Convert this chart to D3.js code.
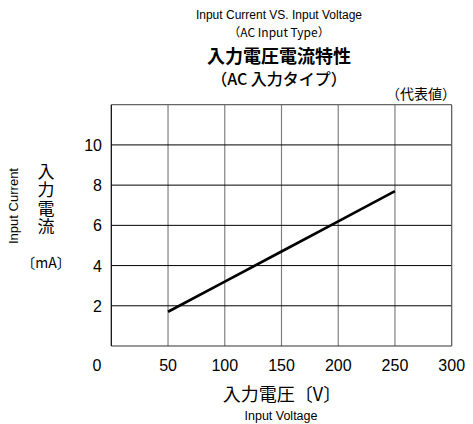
<!DOCTYPE html>
<html><head><meta charset="utf-8">
<script src="https://cdn.jsdelivr.net/npm/d3@7"></script>
<style>
body{margin:0;background:#fff;}
text{font-family:"Liberation Sans","Noto Sans CJK JP",sans-serif;fill:#000;}
.cjk{font-family:"Noto Sans CJK JP","Liberation Sans",sans-serif;}
</style></head><body>
<svg id="c" width="473" height="424"></svg>
<script>
const voltage = [50, 100, 150, 200, 250];
const current = [1.7, 3.2, 4.7, 6.2, 7.7];
const xTicks = [50, 100, 150, 200, 250, 300];
const yTicks = [2, 4, 6, 8, 10];
const xGrid = [50, 100, 150, 200, 250];
const yGrid = [2, 4, 6, 8, 10];

const svg = d3.select("#c");
const x = d3.scaleLinear().domain([0, 300]).range([111.3, 451.7]);
const y = d3.scaleLinear().domain([0, 12]).range([346, 104.7]);

// titles
const t = [
  {s:"Input Current VS. Input Voltage", y:19, size:12, w:"normal", cls:""},
  {s:"（AC Input Type）", y:37, size:12, w:"normal", cls:"cjk"},
  {s:"入力電圧電流特性", y:63, size:18, w:"bold", cls:"cjk"},
  {s:"（AC 入力タイプ）", y:85, size:16, w:"500", cls:"cjk"}
];
svg.selectAll("text.title").data(t).join("text")
  .attr("class", d => "title " + d.cls)
  .attr("x", 279).attr("y", d => d.y)
  .attr("text-anchor", "middle")
  .style("font-size", d => d.size + "px")
  .style("font-weight", d => d.w)
  .text(d => d.s);

svg.append("text").attr("class","cjk").attr("x", 456).attr("y", 99)
  .attr("text-anchor","end").style("font-size","14px").text("（代表値）");

// grid
const g = svg.append("g");
g.selectAll("line.vg").data(xGrid).join("line")
  .attr("x1", d => x(d)).attr("x2", d => x(d))
  .attr("y1", y(12)).attr("y2", y(0))
  .attr("stroke", "#808080").attr("stroke-width", 1.2);
g.selectAll("line.hg").data(yGrid).join("line")
  .attr("x1", x(0)).attr("x2", x(300))
  .attr("y1", d => y(d)).attr("y2", d => y(d))
  .attr("stroke", "#000").attr("stroke-width", 1);

// frame
g.append("line").attr("x1", x(0)).attr("x2", x(300)).attr("y1", y(12)).attr("y2", y(12)).attr("stroke","#666").attr("stroke-width",1.2);
g.append("line").attr("x1", x(0)).attr("x2", x(300)).attr("y1", y(0)).attr("y2", y(0)).attr("stroke","#333").attr("stroke-width",1.2);
g.append("line").attr("x1", x(0)).attr("x2", x(0)).attr("y1", y(12)).attr("y2", y(0)).attr("stroke","#000").attr("stroke-width",1.2);
g.append("line").attr("x1", x(300)).attr("x2", x(300)).attr("y1", y(12)).attr("y2", y(0)).attr("stroke","#555").attr("stroke-width",1.2);

// data line
const data = voltage.map((v, i) => [v, current[i]]);
svg.append("path").datum(data)
  .attr("d", d3.line().x(d => x(d[0])).y(d => y(d[1])))
  .attr("fill", "none").attr("stroke", "#000").attr("stroke-width", 2.7);

// tick labels
svg.selectAll("text.xt").data(xTicks).join("text").attr("class","xt")
  .attr("x", d => x(d)).attr("y", 371).attr("text-anchor","middle")
  .style("font-size","16px").text(d => d);
svg.selectAll("text.yt").data(yTicks).join("text").attr("class","yt")
  .attr("x", 102).attr("y", d => y(d) + 6).attr("text-anchor","end")
  .style("font-size","16px").text(d => d);
svg.append("text").attr("x", 97).attr("y", 371).attr("text-anchor","middle")
  .style("font-size","16px").text("0");

// axis labels
svg.append("text").attr("class","cjk").attr("x", 282).attr("y", 401)
  .attr("text-anchor","middle").style("font-size","18px").text("入力電圧〔V〕");
svg.append("text").attr("x", 281).attr("y", 420)
  .attr("text-anchor","middle").style("font-size","12.5px").text("Input Voltage");

svg.append("text").attr("transform","translate(18,206) rotate(-90)")
  .attr("text-anchor","middle").style("font-size","12px")
  .attr("textLength", 76).attr("lengthAdjust","spacingAndGlyphs").text("Input Current");
svg.append("text").attr("class","cjk")
  .attr("x", 46).attr("y", 163)
  .style("writing-mode","vertical-rl").style("letter-spacing","1.3px")
  .style("font-size","17px").text("入力電流");
svg.append("text").attr("class","cjk").attr("x", 46).attr("y", 268)
  .attr("text-anchor","middle").style("font-size","14px").text("〔mA〕");
</script></body></html>
